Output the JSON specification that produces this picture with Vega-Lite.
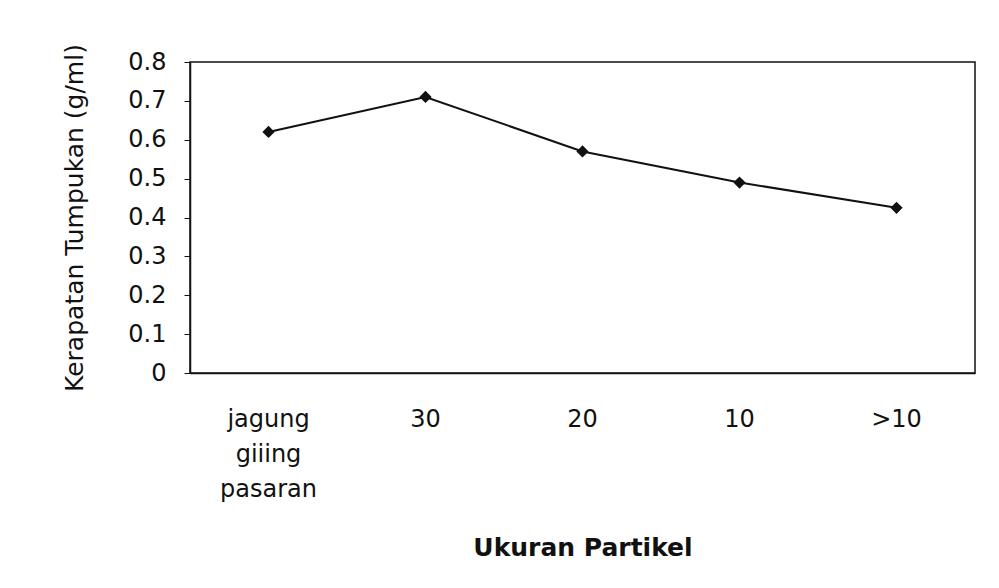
{
  "$schema": "https://vega.github.io/schema/vega-lite/v6.json",
  "width": 785,
  "height": 311,
  "autosize": "none",
  "padding": {"left": 190, "top": 62, "right": 24, "bottom": 215},
  "background": "white",
  "config": {
    "view": {"stroke": "#111", "strokeWidth": 1.5},
    "font": "DejaVu Sans",
    "axis": {"grid": false, "domainColor": "#111", "tickColor": "#111", "labelColor": "#111", "titleColor": "#111", "labelFont": "DejaVu Sans", "titleFont": "DejaVu Sans"}
  },
  "data": {
    "values": [
      {"ukuran": "jagung giiing pasaran", "kerapatan": 0.62},
      {"ukuran": "30", "kerapatan": 0.71},
      {"ukuran": "20", "kerapatan": 0.57},
      {"ukuran": "10", "kerapatan": 0.49},
      {"ukuran": ">10", "kerapatan": 0.425}
    ]
  },
  "encoding": {
    "x": {
      "field": "ukuran",
      "type": "nominal",
      "sort": null,
      "scale": {"type": "band", "paddingInner": 0, "paddingOuter": 0},
      "axis": {
        "title": "Ukuran Partikel",
        "titleFontSize": 25,
        "titleFontWeight": "bold",
        "titlePadding": 34,
        "labelAngle": 0,
        "labelFontSize": 24,
        "labelLineHeight": 35,
        "labelPadding": 34,
        "ticks": false,
        "domainWidth": 1.5,
        "labelExpr": "datum.value == 'jagung giiing pasaran' ? ['jagung', 'giiing', 'pasaran'] : datum.value"
      }
    },
    "y": {
      "field": "kerapatan",
      "type": "quantitative",
      "scale": {"domain": [0, 0.8], "nice": false},
      "axis": {
        "title": "Kerapatan Tumpukan (g/ml)",
        "titleFontSize": 25,
        "titleFontWeight": "normal",
        "titlePadding": 40,
        "values": [0, 0.1, 0.2, 0.3, 0.4, 0.5, 0.6, 0.7, 0.8],
        "labelExpr": "datum.value == 0 ? '0' : format(datum.value, '.1f')",
        "labelFontSize": 24,
        "labelPadding": 18,
        "tickSize": 6,
        "domainWidth": 1.5
      }
    }
  },
  "layer": [
    {"mark": {"type": "line", "color": "#111", "strokeWidth": 2}},
    {"mark": {"type": "point", "shape": "diamond", "filled": true, "color": "#111", "size": 150, "opacity": 1}}
  ]
}
